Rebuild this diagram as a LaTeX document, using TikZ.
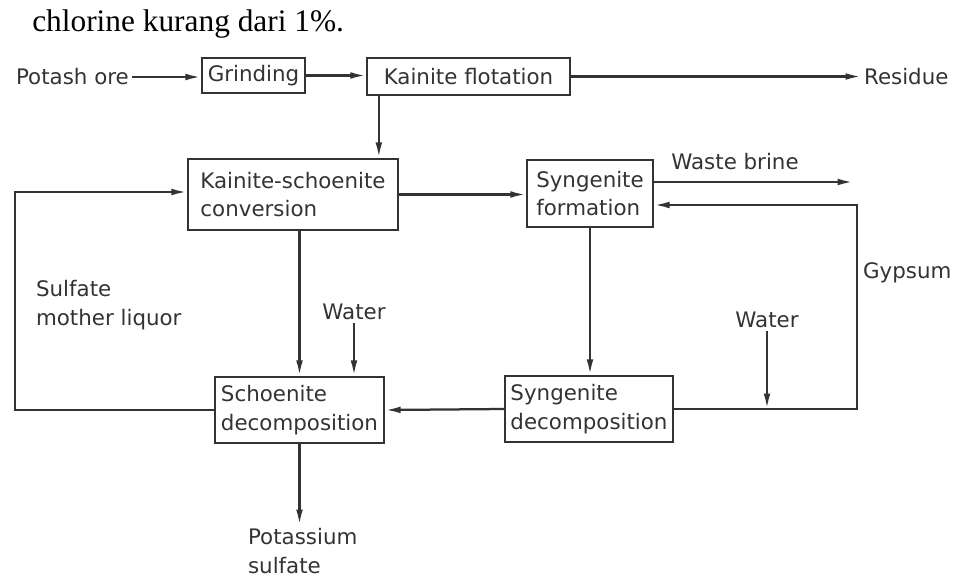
\documentclass[tikz,border=0pt]{standalone}
\usepackage{fontspec}
\setmainfont{Liberation Serif}
\setsansfont{DejaVu Sans}
\usetikzlibrary{positioning,calc,arrows.meta}

\begin{document}
\begin{tikzpicture}[
    x=0.025cm, y=-0.025cm,
    font=\sffamily\fontsize{15.2}{20.5}\selectfont,
    box/.style={draw=black!80, line width=1.6pt, align=left, inner sep=2pt, text=black!80},
    lbl/.style={inner sep=2pt, align=left, text=black!80},
    arrow/.style={-{Latex[length=11pt,width=4.8pt]}, draw=black!80, line width=1.6pt}
  ]
    \useasboundingbox (0,0) rectangle (955,578);
    \node[anchor=base west, inner sep=0pt, font=\rmfamily\fontsize{22.3}{26}\selectfont] (intro) at (32,32) {chlorine kurang dari 1\%.};

    \node[box, minimum width=2.575cm, minimum height=0.875cm] (grind) at (253.5,75.5) {Grinding};
    \node[box, minimum width=5.075cm, minimum height=0.925cm] (flot) at (468.5,76.5) {Kainite flotation};
    \node[box, minimum width=5.25cm, minimum height=1.775cm] (ksconv) at (293,194.5) {Kainite-schoenite\\conversion};
    \node[box, minimum width=3.15cm, minimum height=1.675cm] (synform) at (590,193.5) {Syngenite\\formation};
    \node[box, minimum width=4.225cm, minimum height=1.65cm] (schdec) at (299.5,410) {Schoenite\\decomposition};
    \node[box, minimum width=4.2cm, minimum height=1.65cm] (syndec) at (589,409) {Syngenite\\decomposition};

    \node[lbl, anchor=west] (potash) at (13,77) {Potash ore};
    \node[lbl, anchor=west] (residue) at (861,77) {Residue};
    \node[lbl] (brine) at (735,162) {Waste brine};
    \node[lbl, anchor=west] (gypsum) at (860,273) {Gypsum};
    \node[lbl, anchor=north west] (liquor) at (33,277) {Sulfate\\mother liquor};
    \node[lbl] (water1) at (354,312) {Water};
    \node[lbl] (water2) at (767,320) {Water};
    \node[lbl, anchor=north west] (potassium) at (245,525) {Potassium\\sulfate};

    \coordinate (flotdrop) at ($(flot.south west)+(13,0)$);
    \coordinate (brineend) at (853,182);
    \coordinate (gypcorner) at (857,205);
    \coordinate (liquorcorner) at (15,192);

    \draw[arrow] (potash.east) -- (potash.east -| grind.west);
    \draw[arrow] (grind.east) -- (grind.east -| flot.west);
    \draw[arrow] (flot.east) -- (flot.east -| residue.west);
    \draw[arrow] (flotdrop) -- (flotdrop |- ksconv.north);
    \draw[arrow] (ksconv.east) -- (ksconv.east -| synform.west);
    \draw[arrow] (brineend -| synform.east) -- (brineend);
    \draw[arrow] (syndec.east) -| (gypcorner) -- (gypcorner -| synform.east);
    \draw[arrow] (schdec.west) -| (liquorcorner) -- (liquorcorner -| ksconv.west);
    \draw[arrow] (ksconv.south -| schdec.north) -- (schdec.north);
    \draw[arrow] (water1.south) -- (water1.south |- schdec.north);
    \draw[arrow] (synform.south) -- (synform.south |- syndec.north);
    \draw[arrow] (syndec.west) -- (schdec.east);
    \draw[arrow] (water2.south) -- (water2.south |- syndec.east);
    \draw[arrow] (schdec.south) -- (schdec.south |- potassium.north);
  \end{tikzpicture}
\end{document}
